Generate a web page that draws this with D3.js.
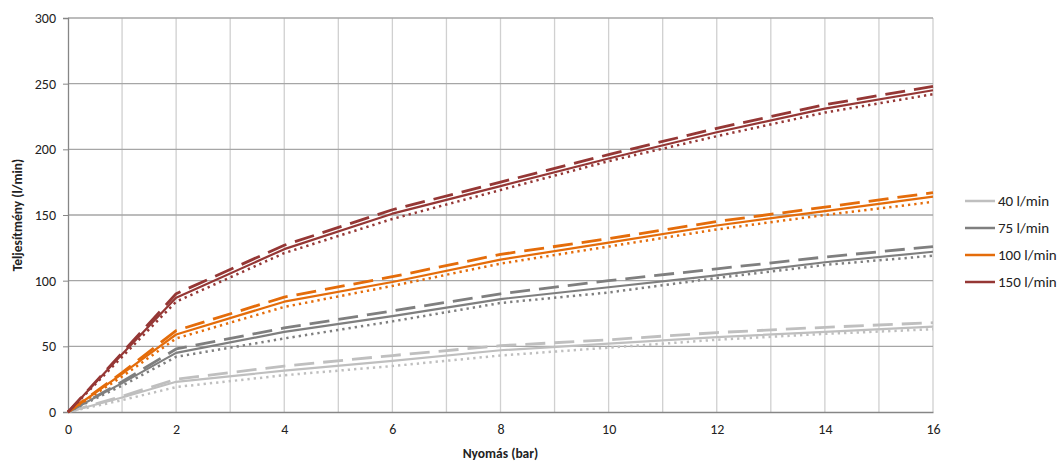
<!DOCTYPE html>
<html lang="en">
<head>
    <meta charset="UTF-8">
    <title>Teljesítmény</title>
    <style>
        body {
            margin: 0;
            background: #fff;
            font-family: Carlito, Calibri, Lato, sans-serif;
        }
        .tick text {
            font-size: 14px;
            fill: #222;
        }
        .axis-title {
            font-size: 13.5px;
            font-weight: bold;
            fill: #222;
        }
        .legend-label {
            font-size: 15px;
            fill: #222;
        }
    </style>
</head>
<body>
    <svg id="chart" width="1064" height="465"></svg>

    <script src="https://d3js.org/d3.v7.min.js"></script>
    <script>
        // pressure (bar)
        const pressure = [0, 1, 2, 4, 6, 8, 10, 12, 14, 16];

        // capacity (l/min) - solid / dashed / dotted variant per pump
        const p40Solid  = [0, 11, 23, 31.5, 39, 47, 52, 57, 61, 65];
        const p40Dash   = [0, 12, 25, 35, 43, 50.5, 55, 60.5, 64.5, 68];
        const p40Dot    = [0, 9, 19, 28, 35, 43, 49, 55, 59.5, 63];

        const p75Solid  = [0, 22, 45, 61, 73, 86, 95, 104, 114, 122];
        const p75Dash   = [0, 23, 48, 64, 77, 90, 100, 109, 118, 126];
        const p75Dot    = [0, 20, 42, 56, 69, 83, 91, 102, 112, 119];

        const p100Solid = [0, 29, 59, 84, 99, 116, 129, 142, 153, 164];
        const p100Dash  = [0, 30, 62, 87.5, 103, 120, 132, 145, 156, 167];
        const p100Dot   = [0, 27, 56, 80, 96, 113, 126, 139, 150, 160];

        const p150Solid = [0, 44, 87, 124, 151, 172, 193, 213, 231, 245];
        const p150Dash  = [0, 45, 90, 127, 154, 175, 196, 216, 234, 248];
        const p150Dot   = [0, 42, 84, 121, 147, 169, 191, 210, 228, 242];

        const seriesNames = ["40 l/min", "75 l/min", "100 l/min", "150 l/min"];
        const xTicks = [0, 2, 4, 6, 8, 10, 12, 14, 16];
        const yTicks = [0, 50, 100, 150, 200, 250, 300];

        const colors = ["#bfbfbf", "#7f7f7f", "#e46c0a", "#953735"];

        const series = [
            { name: seriesNames[0], color: colors[0], solid: p40Solid,  dash: p40Dash,  dot: p40Dot },
            { name: seriesNames[1], color: colors[1], solid: p75Solid,  dash: p75Dash,  dot: p75Dot },
            { name: seriesNames[2], color: colors[2], solid: p100Solid, dash: p100Dash, dot: p100Dot },
            { name: seriesNames[3], color: colors[3], solid: p150Solid, dash: p150Dash, dot: p150Dot }
        ];

        const svg = d3.select("#chart");
        const margin = { left: 68, right: 131, top: 18, bottom: 53 };
        const width = 1064 - margin.left - margin.right;
        const height = 465 - margin.top - margin.bottom;

        const x = d3.scaleLinear().domain([0, 16]).range([0, width]);
        const y = d3.scaleLinear().domain([0, 300]).range([height, 0]);

        const g = svg.append("g").attr("transform", `translate(${margin.left},${margin.top})`);

        // vertical grid every 1 bar (light)
        g.append("g")
            .selectAll("line")
            .data(d3.range(1, 17))
            .join("line")
            .attr("x1", d => x(d)).attr("x2", d => x(d))
            .attr("y1", 0).attr("y2", height)
            .attr("stroke", "#d0d0d0")
            .attr("stroke-width", 1.3);

        // horizontal grid (darker)
        g.append("g")
            .selectAll("line")
            .data(yTicks.slice(1))
            .join("line")
            .attr("x1", 0).attr("x2", width)
            .attr("y1", d => y(d)).attr("y2", d => y(d))
            .attr("stroke", "#a6a6a6")
            .attr("stroke-width", 1.3);

        // axes
        const yAxis = g.append("g")
            .call(d3.axisLeft(y).tickValues(yTicks).tickSize(5).tickPadding(7));
        yAxis.select(".domain").attr("stroke", "#868686").attr("stroke-width", 1.3);
        yAxis.selectAll(".tick line").attr("stroke", "#868686");

        const xAxis = g.append("g")
            .attr("transform", `translate(0,${height})`)
            .call(d3.axisBottom(x).tickValues(xTicks).tickSize(0).tickPadding(12));
        xAxis.select(".domain").attr("stroke", "#868686").attr("stroke-width", 1.3);

        g.selectAll(".tick text").style("font-family", "Carlito, Calibri, Lato, sans-serif");

        // lines (straight segments between read points, like the source chart)
        const line = d3.line()
            .x((d, i) => x(pressure[i]))
            .y(d => y(d));

        const lineGroup = g.append("g").attr("stroke-linejoin", "round");
        series.forEach(s => {
            lineGroup.append("path")
                .attr("d", line(s.dot))
                .attr("fill", "none")
                .attr("stroke", s.color)
                .attr("stroke-width", 2.5)
                .attr("stroke-dasharray", "2.3,4");
            lineGroup.append("path")
                .attr("d", line(s.dash))
                .attr("fill", "none")
                .attr("stroke", s.color)
                .attr("stroke-width", 2.8)
                .attr("stroke-dasharray", "20,9");
            lineGroup.append("path")
                .attr("d", line(s.solid))
                .attr("fill", "none")
                .attr("stroke", s.color)
                .attr("stroke-width", 2.2);
        });

        // axis titles
        svg.append("text")
            .attr("class", "axis-title")
            .attr("x", margin.left + width / 2)
            .attr("y", 458)
            .attr("text-anchor", "middle")
            .text("Nyomás (bar)");

        svg.append("text")
            .attr("class", "axis-title")
            .attr("transform", `translate(22,${margin.top + height / 2}) rotate(-90)`)
            .attr("text-anchor", "middle")
            .text("Teljesítmény (l/min)");

        // legend
        const legend = svg.append("g").attr("transform", "translate(965,201)");
        const item = legend.selectAll("g")
            .data(series)
            .join("g")
            .attr("transform", (d, i) => `translate(0,${i * 27})`);
        item.append("line")
            .attr("x1", 0).attr("x2", 30)
            .attr("y1", 0).attr("y2", 0)
            .attr("stroke", d => d.color)
            .attr("stroke-width", 2.5);
        item.append("text")
            .attr("class", "legend-label")
            .attr("x", 33)
            .attr("y", 0)
            .attr("dy", "0.35em")
            .text(d => d.name);
    </script>
</body>
</html>
